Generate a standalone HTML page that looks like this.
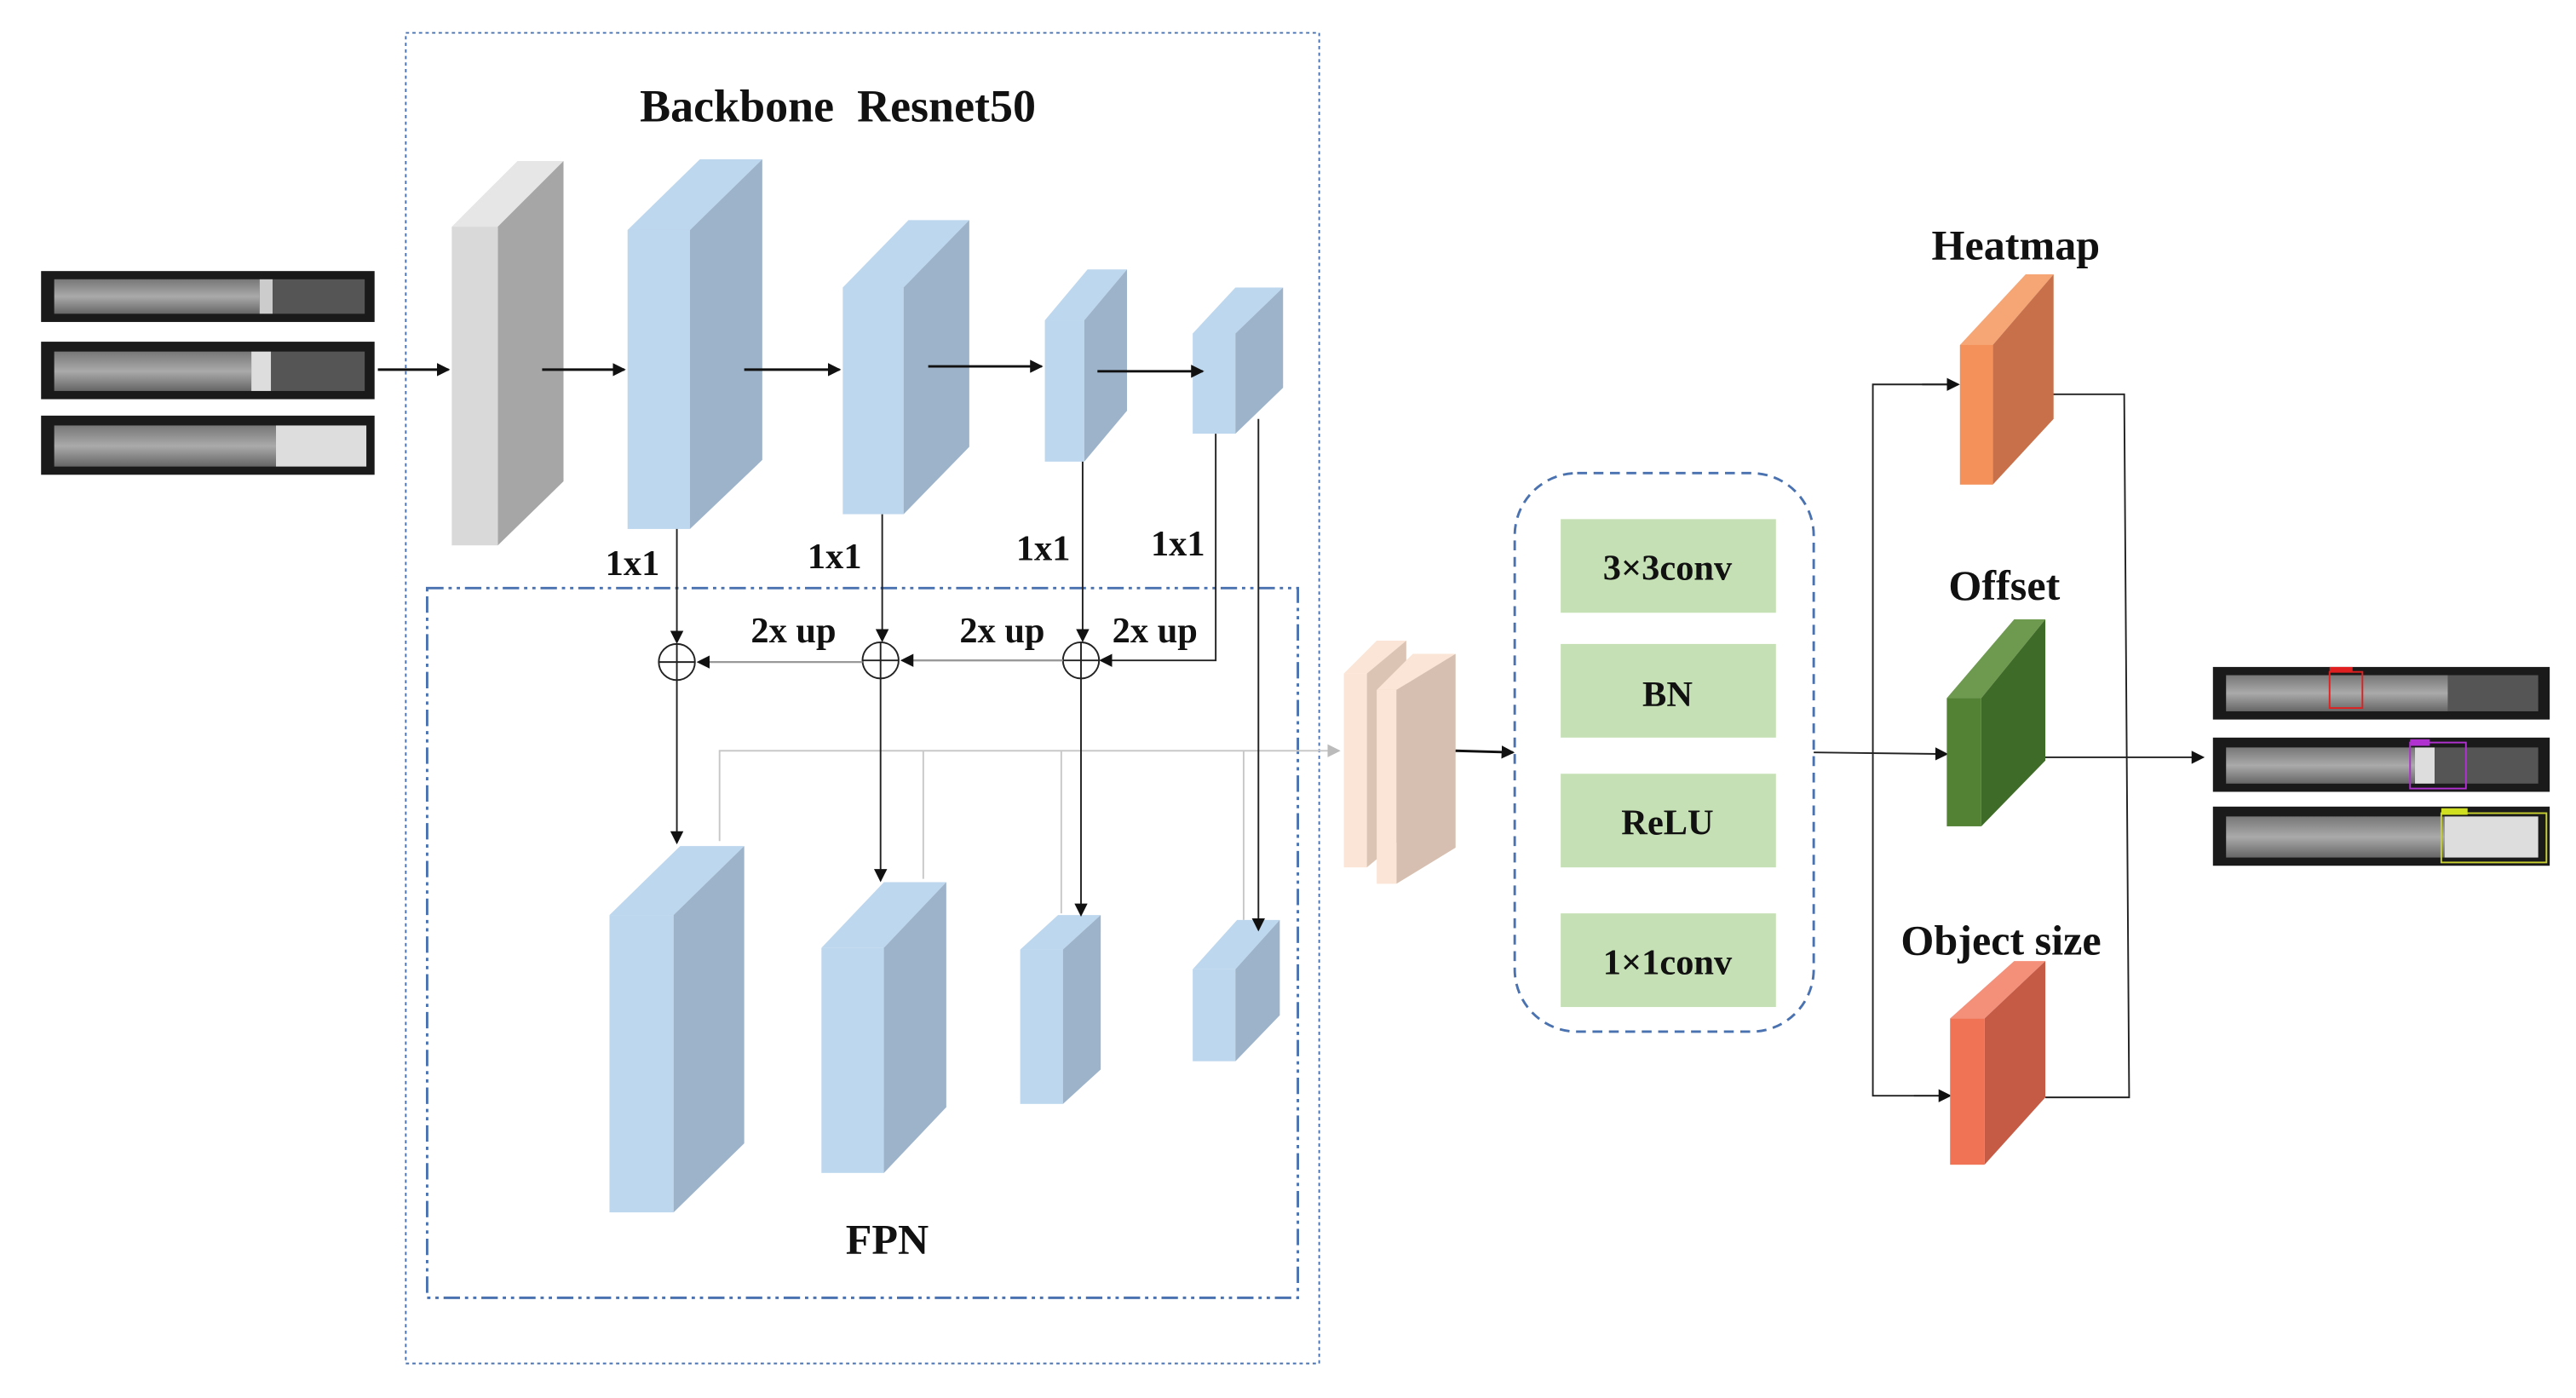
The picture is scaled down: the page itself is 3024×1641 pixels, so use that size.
<!DOCTYPE html>
<html><head><meta charset="utf-8"><style>
html,body{margin:0;padding:0;background:#fff;}
svg{display:block;}
text{font-family:"Liberation Serif",serif;font-weight:bold;fill:#111;}
</style></head><body>
<svg width="3024" height="1641" viewBox="0 0 1568 851" preserveAspectRatio="none" xmlns="http://www.w3.org/2000/svg">
<defs>
<marker id="a" markerWidth="8" markerHeight="8" refX="7" refY="4" orient="auto" markerUnits="userSpaceOnUse"><path d="M0,0 L8,4 L0,8 z" fill="#111"/></marker>
<marker id="g" markerWidth="8" markerHeight="8" refX="7" refY="4" orient="auto" markerUnits="userSpaceOnUse"><path d="M0,0 L8,4 L0,8 z" fill="#bbb"/></marker>
<linearGradient id="im" x1="0" y1="0" x2="0" y2="1"><stop offset="0" stop-color="#777"/><stop offset="0.5" stop-color="#aaa"/><stop offset="1" stop-color="#666"/></linearGradient>
</defs>
<rect x="247" y="20" width="556" height="810" fill="none" stroke="#4a72b0" stroke-width="1" stroke-dasharray="2,2"/>
<text x="510" y="74" font-size="28" text-anchor="middle" xml:space="preserve">Backbone  Resnet50</text>
<g>
<rect x="25" y="165" width="203" height="31" fill="#1a1a1a"/><rect x="33" y="170" width="125" height="21" fill="url(#im)"/><rect x="158" y="170" width="8" height="21" fill="#ccc"/><rect x="166" y="170" width="56" height="21" fill="#555"/>
<rect x="25" y="208" width="203" height="35" fill="#1a1a1a"/><rect x="33" y="214" width="120" height="24" fill="url(#im)"/><rect x="153" y="214" width="12" height="24" fill="#ddd"/><rect x="165" y="214" width="57" height="24" fill="#555"/>
<rect x="25" y="253" width="203" height="36" fill="#1a1a1a"/><rect x="33" y="259" width="135" height="25" fill="url(#im)"/><rect x="168" y="259" width="55" height="25" fill="#ddd"/>
</g>
<line x1="230" y1="225" x2="273" y2="225" stroke="#111" stroke-width="1.5" marker-end="url(#a)"/>
<polygon points="275,138 315,98 343,98 303,138" fill="#e6e6e6"/>
<polygon points="303,138 343,98 343,293 303,332" fill="#a6a6a6"/>
<rect x="275" y="138" width="28" height="194" fill="#d9d9d9"/>
<g fill="#bdd7ee">
<polygon points="382,140 426,97 464,97 420,140"/><rect x="382" y="140" width="38" height="182"/>
<polygon points="513,175 553,134 590,134 550,175"/><rect x="513" y="175" width="37" height="138"/>
<polygon points="636,195 662,164 686,164 660,195"/><rect x="636" y="195" width="24" height="86"/>
<polygon points="726,203 752,175 781,175 752,203"/><rect x="726" y="203" width="26" height="61"/>
<polygon points="371,557 414,515 453,515 410,557"/><rect x="371" y="557" width="39" height="181"/>
<polygon points="500,577 538,537 576,537 538,577"/><rect x="500" y="577" width="38" height="137"/>
<polygon points="621,578 644,557 670,557 647,578"/><rect x="621" y="578" width="26" height="94"/>
<polygon points="726,590 753,560 779,560 752,590"/><rect x="726" y="590" width="26" height="56"/>
</g>
<g fill="#9db3c9">
<polygon points="420,140 464,97 464,280 420,322"/>
<polygon points="550,175 590,134 590,272 550,313"/>
<polygon points="660,195 686,164 686,250 660,281"/>
<polygon points="752,203 781,175 781,236 752,264"/>
<polygon points="410,557 453,515 453,696 410,738"/>
<polygon points="538,577 576,537 576,674 538,714"/>
<polygon points="647,578 670,557 670,651 647,672"/>
<polygon points="752,590 779,560 779,618 752,646"/>
</g>
<g stroke="#111" stroke-width="1.5" fill="none">
<line x1="330" y1="225" x2="380" y2="225" marker-end="url(#a)"/>
<line x1="453" y1="225" x2="511" y2="225" marker-end="url(#a)"/>
<line x1="565" y1="223" x2="634" y2="223" marker-end="url(#a)"/>
<line x1="668" y1="226" x2="732" y2="226" marker-end="url(#a)"/>
</g>
<g font-size="22">
<text x="385" y="350" text-anchor="middle">1x1</text>
<text x="508" y="346" text-anchor="middle">1x1</text>
<text x="635" y="341" text-anchor="middle">1x1</text>
<text x="717" y="338" text-anchor="middle">1x1</text>
<text x="483" y="391" text-anchor="middle">2x up</text>
<text x="610" y="391" text-anchor="middle">2x up</text>
<text x="703" y="391" text-anchor="middle">2x up</text>
<text x="540" y="763" text-anchor="middle" font-size="26">FPN</text>
</g>
<rect x="260" y="358" width="530" height="432" fill="none" stroke="#4a72b0" stroke-width="1.5" stroke-dasharray="10,3,2,3,2,3"/>
<g stroke="#c8c8c8" stroke-width="1" fill="none">
<polyline points="438,512 438,457 815,457" marker-end="url(#g)"/>
<line x1="562" y1="457" x2="562" y2="535"/>
<line x1="646" y1="457" x2="646" y2="556"/>
<line x1="757" y1="457" x2="757" y2="560"/>
</g>
<g stroke="#222" stroke-width="1" fill="none">
<line x1="412" y1="322" x2="412" y2="391" marker-end="url(#a)"/>
<line x1="537" y1="313" x2="537" y2="390" marker-end="url(#a)"/>
<line x1="659" y1="281" x2="659" y2="390" marker-end="url(#a)"/>
<polyline points="740,264 740,402 670,402" marker-end="url(#a)"/>
<line x1="766" y1="255" x2="766" y2="566" marker-end="url(#a)"/>
<line x1="412" y1="392" x2="412" y2="513" marker-end="url(#a)"/>
<line x1="536" y1="391" x2="536" y2="536" marker-end="url(#a)"/>
<line x1="658" y1="391" x2="658" y2="557" marker-end="url(#a)"/>
<circle cx="412" cy="403" r="11"/><line x1="401" y1="403" x2="423" y2="403"/>
<circle cx="536" cy="402" r="11"/><line x1="525" y1="402" x2="547" y2="402"/>
<circle cx="658" cy="402" r="11"/><line x1="647" y1="402" x2="669" y2="402"/>
</g>
<g stroke="#999" stroke-width="1.2" fill="none">
<line x1="647" y1="402" x2="549" y2="402" marker-end="url(#a)"/>
<line x1="525" y1="403" x2="425" y2="403" marker-end="url(#a)"/>
</g>
<polygon points="818,410 838,390 856,390 832,410" fill="#fbe5d6"/>
<polygon points="832,410 856,390 856,508 832,528" fill="#dcc4b4"/>
<rect x="818" y="410" width="14" height="118" fill="#fbe5d6"/>
<polygon points="838,420 860,398 886,398 850,420" fill="#fbe5d6"/>
<polygon points="850,420 886,398 886,516 850,538" fill="#d6bfb0"/>
<rect x="838" y="420" width="12" height="118" fill="#fbe5d6"/>
<line x1="886" y1="457" x2="921" y2="458" stroke="#111" stroke-width="1.5" marker-end="url(#a)"/>
<rect x="922" y="288" width="182" height="340" rx="38" fill="none" stroke="#4a72b0" stroke-width="1.5" stroke-dasharray="6,4"/>
<g fill="#c5e0b4">
<rect x="950" y="316" width="131" height="57"/><rect x="950" y="392" width="131" height="57"/>
<rect x="950" y="471" width="131" height="57"/><rect x="950" y="556" width="131" height="57"/>
</g>
<g font-size="22" text-anchor="middle">
<text x="1015" y="353">3×3conv</text><text x="1015" y="430">BN</text>
<text x="1015" y="508">ReLU</text><text x="1015" y="593">1×1conv</text>
</g>
<g stroke="#222" stroke-width="1" fill="none">
<line x1="1104" y1="458" x2="1185" y2="459" marker-end="url(#a)"/>
<polyline points="1192,234 1140,234 1140,667 1187,667"/>
<line x1="1170" y1="234" x2="1192" y2="234" marker-end="url(#a)"/>
<line x1="1165" y1="667" x2="1187" y2="667" marker-end="url(#a)"/>
<polyline points="1245,240 1293,240 1296,668 1245,668"/>
<line x1="1240" y1="461" x2="1341" y2="461" marker-end="url(#a)"/>
</g>
<polygon points="1193,210 1233,167 1250,167 1213,210" fill="#f6a574"/>
<polygon points="1213,210 1250,167 1250,255 1213,295" fill="#c8704a"/>
<rect x="1193" y="210" width="20" height="85" fill="#f4915a"/>
<polygon points="1185,425 1226,377 1245,377 1206,425" fill="#6e9a50"/>
<polygon points="1206,425 1245,377 1245,463 1206,503" fill="#3f6b28"/>
<rect x="1185" y="425" width="21" height="78" fill="#548235"/>
<polygon points="1187,620 1226,585 1245,585 1208,620" fill="#f4907a"/>
<polygon points="1208,620 1245,585 1245,668 1208,709" fill="#c55a45"/>
<rect x="1187" y="620" width="21" height="89" fill="#f07355"/>
<g font-size="26" text-anchor="middle">
<text x="1227" y="158">Heatmap</text>
<text x="1220" y="365">Offset</text>
<text x="1218" y="581">Object size</text>
</g>
<rect x="1347" y="406" width="205" height="32" fill="#1a1a1a"/><rect x="1355" y="411" width="135" height="22" fill="url(#im)"/><rect x="1490" y="411" width="55" height="22" fill="#555"/>
<rect x="1418" y="409" width="20" height="22" fill="none" stroke="#e02020"/><rect x="1418" y="406" width="14" height="3" fill="#e02020"/>
<rect x="1347" y="449" width="205" height="33" fill="#1a1a1a"/><rect x="1355" y="455" width="115" height="22" fill="url(#im)"/><rect x="1470" y="455" width="12" height="22" fill="#ddd"/><rect x="1482" y="455" width="63" height="22" fill="#555"/>
<rect x="1467" y="452" width="34" height="28" fill="none" stroke="#b030d0"/><rect x="1467" y="450" width="12" height="4" fill="#b030d0"/>
<rect x="1347" y="491" width="205" height="36" fill="#1a1a1a"/><rect x="1355" y="497" width="133" height="25" fill="url(#im)"/><rect x="1488" y="497" width="57" height="25" fill="#ddd"/>
<rect x="1486" y="495" width="64" height="30" fill="none" stroke="#c8d030"/><rect x="1486" y="492" width="16" height="4" fill="#d0e020"/>
</svg>
</body></html>
